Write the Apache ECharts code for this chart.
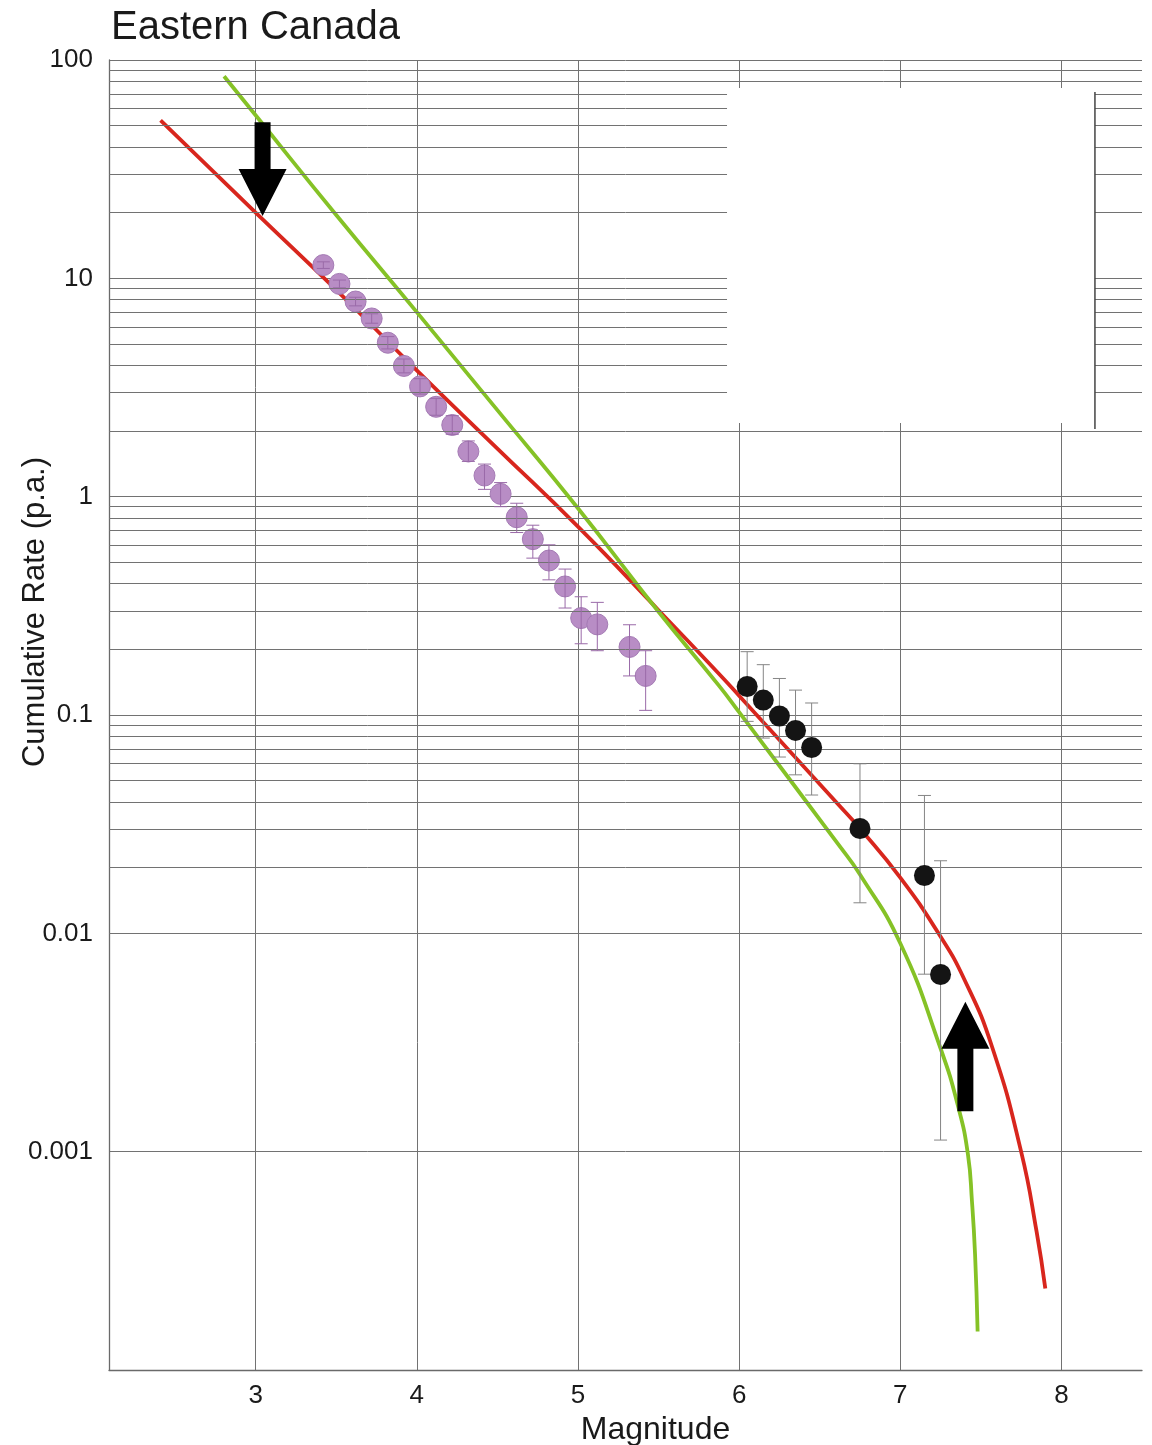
<!DOCTYPE html>
<html>
<head>
<meta charset="utf-8">
<title>Eastern Canada</title>
<script src="https://cdn.jsdelivr.net/npm/echarts@6/dist/echarts.min.js"></script>
<style>
  html, body { margin: 0; padding: 0; background: #ffffff; }
  #chart { width: 1152px; height: 1445px; }
</style>
</head>
<body>
<div id="chart"></div>
<script>
// Instrumental catalogue: cumulative annual rate with error range
const catalogueMag  = [3.42, 3.52, 3.62, 3.72, 3.82, 3.92, 4.02, 4.12, 4.22, 4.32, 4.42, 4.52, 4.62, 4.72, 4.82, 4.92, 5.02, 5.12, 5.32, 5.42];
const catalogueRate = [11.5, 9.43, 7.83, 6.55, 5.07, 3.97, 3.20, 2.58, 2.13, 1.61, 1.25, 1.03, 0.805, 0.639, 0.510, 0.388, 0.278, 0.260, 0.205, 0.151];
const catalogueLow  = [11.1, 9.05, 7.48, 6.23, 4.75, 3.69, 2.95, 2.36, 1.93, 1.45, 1.08, 0.90, 0.685, 0.523, 0.416, 0.309, 0.212, 0.197, 0.151, 0.105];
const catalogueHigh = [11.9, 9.82, 8.19, 6.88, 5.41, 4.27, 3.47, 2.82, 2.35, 1.80, 1.41, 1.16, 0.933, 0.740, 0.602, 0.466, 0.348, 0.328, 0.259, 0.197];

// Large historical / paleo events
const largeMag  = [6.05, 6.15, 6.25, 6.35, 6.45, 6.75, 7.15, 7.25];
const largeRate = [0.135, 0.117, 0.099, 0.085, 0.071, 0.0302, 0.0184, 0.00648];
const largeLow  = [0.0935, 0.0784, 0.0642, 0.0532, 0.0430, 0.0138, 0.0065, 0.00113];
const largeHigh = [0.195, 0.170, 0.147, 0.130, 0.1135, 0.0598, 0.0428, 0.0215];

// Magnitude-recurrence models
const redModelMag  = [2.41, 3.0, 3.5, 4.0, 4.5, 5.0, 5.5, 5.876, 6.0, 6.617, 6.75, 7.0, 7.237, 7.4, 7.571, 7.75, 7.846, 7.9];
const redModelRate = [52.9, 20.0, 8.85, 3.79, 1.66, 0.729, 0.302, 0.154, 0.1225, 0.0388, 0.0302, 0.0180, 0.0100, 0.0061, 0.0030, 0.00100, 0.00043, 0.000236];
const greenModelMag  = [2.804, 3.0, 3.5, 4.0, 4.5, 5.0, 5.5, 5.876, 6.0, 6.618, 6.75, 7.0, 7.248, 7.36, 7.42, 7.445, 7.464, 7.48];
const greenModelRate = [84.2, 55.8, 19.5, 7.0, 2.49, 0.885, 0.297, 0.136, 0.103, 0.0254, 0.0186, 0.0090, 0.0030, 0.0016, 0.00097, 0.00059, 0.00034, 0.00015];

// Annotation arrows: tail and tip in (magnitude, rate)
const arrowTail = [[3.043, 51.9], [7.404, 0.00153]];
const arrowTip  = [[3.043, 19.3], [7.404, 0.00486]];

// Blank panel in the upper right (magnitude range, rate range)
const panelMag  = [5.925, 8.208];
const panelRate = [2.175, 74.4];
const panelEdgeRate = [2.04, 71.3];

// Axis ticks
const xTickValues = [3, 4, 5, 6, 7, 8];
const yTickLabels = { '-4': '0.0001', '-3': '0.001', '-2': '0.01', '-1': '0.1', '0': '1', '1': '10', '2': '100' };
const decadeStarts = [0.0001, 0.001, 0.01, 0.1, 1, 10];
const minorMultipliers = [2, 3, 4, 5, 6, 7, 8, 9];

const FONT = '"Liberation Sans", Arial, Helvetica, sans-serif';
const GRID_COLOR = '#727272';

const zip = (a, b) => a.map((v, i) => [v, b[i]]);
const zip3 = (a, b, c) => a.map((v, i) => [v, b[i], c[i]]);

const minorGridValues = [];
decadeStarts.forEach(d => minorMultipliers.forEach(k => minorGridValues.push(+(d * k).toPrecision(6))));

function errorBars(color) {
  return function (params, api) {
    const m = api.value(0);
    const lo = api.coord([m, api.value(1)]);
    const hi = api.coord([m, api.value(2)]);
    const cap = 6.5;
    const style = { stroke: color, lineWidth: 1, fill: null };
    return {
      type: 'group',
      children: [
        { type: 'line', shape: { x1: lo[0], y1: lo[1], x2: hi[0], y2: hi[1] }, style },
        { type: 'line', shape: { x1: lo[0] - cap, y1: lo[1], x2: lo[0] + cap, y2: lo[1] }, style },
        { type: 'line', shape: { x1: hi[0] - cap, y1: hi[1], x2: hi[0] + cap, y2: hi[1] }, style }
      ]
    };
  };
}

function arrowShape(params, api) {
  const tail = api.coord([api.value(0), api.value(1)]);
  const tip = api.coord([api.value(2), api.value(3)]);
  const dir = tip[1] < tail[1] ? -1 : 1;
  const shaftHalf = 8, headHalf = 24, headLen = 47;
  const x = tip[0];
  const baseY = tip[1] - dir * headLen;
  return {
    type: 'polygon',
    shape: {
      points: [
        [x - shaftHalf, tail[1]], [x + shaftHalf, tail[1]],
        [x + shaftHalf, baseY], [x + headHalf, baseY],
        [x, tip[1]],
        [x - headHalf, baseY], [x - shaftHalf, baseY]
      ]
    },
    style: { fill: '#000000' }
  };
}

function blankPanel(params, api) {
  const tl = api.coord([api.value(0), api.value(3)]);
  const br = api.coord([api.value(1), api.value(2)]);
  const e1 = api.coord([api.value(1), api.value(4)]);
  const e2 = api.coord([api.value(1), api.value(5)]);
  return {
    type: 'group',
    children: [
      { type: 'rect', shape: { x: tl[0], y: tl[1], width: br[0] - tl[0], height: br[1] - tl[1] }, style: { fill: '#ffffff' } },
      { type: 'line', shape: { x1: e1[0], y1: e1[1], x2: e2[0], y2: e2[1] }, style: { stroke: '#444444', lineWidth: 1.5 } }
    ]
  };
}

const chart = echarts.init(document.getElementById('chart'), null, { renderer: 'canvas' });

chart.setOption({
  animation: false,
  backgroundColor: '#ffffff',
  title: {
    text: 'Eastern Canada',
    left: 111, top: 8, padding: 0,
    textStyle: { fontFamily: FONT, fontSize: 40, fontWeight: 'normal', color: '#1a1a1a' }
  },
  grid: { left: 109, right: 10, top: 60, bottom: 75, containLabel: false, outerBoundsMode: 'none' },
  xAxis: {
    type: 'value', min: 2.09, max: 8.5,
    name: 'Magnitude', nameLocation: 'middle', nameGap: 44, nameMoveOverlap: false,
    nameTextStyle: { fontFamily: FONT, fontSize: 32, color: '#1a1a1a', padding: [0, 0, 0, 60] },
    axisLine: { show: true, lineStyle: { color: '#6a6a6a', width: 1.3 } },
    axisTick: { show: false, customValues: xTickValues },
    axisLabel: { customValues: xTickValues, fontFamily: FONT, fontSize: 26, color: '#1a1a1a', margin: 13 },
    splitLine: { show: true, lineStyle: { color: GRID_COLOR, width: 1 } }
  },
  yAxis: {
    type: 'log', logBase: 10, min: 0.0001, max: 100,
    name: 'Cumulative Rate (p.a.)', nameLocation: 'middle', nameGap: 58, nameMoveOverlap: false,
    nameTextStyle: { fontFamily: FONT, fontSize: 31, color: '#1a1a1a', padding: [0, 0, 0, 206] },
    axisLine: { show: true, lineStyle: { color: '#6a6a6a', width: 1.3 } },
    axisTick: { show: false },
    axisLabel: {
      showMinLabel: false,
      fontFamily: FONT, fontSize: 26, color: '#1a1a1a', margin: 16,
      formatter: v => yTickLabels[String(Math.round(Math.log10(v)))] || ''
    },
    splitLine: { show: true, lineStyle: { color: GRID_COLOR, width: 1 } }
  },
  series: [
    {
      name: 'minor grid', type: 'scatter', data: [], silent: true, z: 1,
      markLine: {
        silent: true, symbol: ['none', 'none'], animation: false,
        label: { show: false },
        lineStyle: { type: 'solid', color: GRID_COLOR, width: 1 },
        data: minorGridValues.map(v => ({ yAxis: v }))
      }
    },
    {
      name: 'Model A', type: 'line', data: zip(redModelMag, redModelRate),
      showSymbol: false, smooth: 0.5, z: 3,
      lineStyle: { color: '#d8261d', width: 3.8 }
    },
    {
      name: 'Model B', type: 'line', data: zip(greenModelMag, greenModelRate),
      showSymbol: false, smooth: 0.5, z: 3,
      lineStyle: { color: '#85c226', width: 3.8 }
    },
    {
      name: 'Catalogue', type: 'scatter', data: zip(catalogueMag, catalogueRate),
      symbolSize: 21, z: 4,
      itemStyle: { color: '#b88dc5', borderColor: '#a47ab4', borderWidth: 1, opacity: 1 }
    },
    {
      name: 'Catalogue error', type: 'custom', z: 5, silent: true,
      data: zip3(catalogueMag, catalogueLow, catalogueHigh),
      encode: { x: 0, y: [1, 2] },
      renderItem: errorBars('#9a6aa8')
    },
    {
      name: 'Large events error', type: 'custom', z: 5, silent: true,
      data: zip3(largeMag, largeLow, largeHigh),
      encode: { x: 0, y: [1, 2] },
      renderItem: errorBars('#858585')
    },
    {
      name: 'Large events', type: 'scatter', data: zip(largeMag, largeRate),
      symbolSize: 21, z: 6,
      itemStyle: { color: '#141414', opacity: 1 }
    },
    {
      name: 'Arrows', type: 'custom', z: 7, silent: true,
      data: arrowTail.map((t, i) => [t[0], t[1], arrowTip[i][0], arrowTip[i][1]]),
      encode: { x: [0, 2], y: [1, 3] },
      renderItem: arrowShape
    },
    {
      name: 'Panel', type: 'custom', z: 8, silent: true,
      data: [[panelMag[0], panelMag[1], panelRate[0], panelRate[1], panelEdgeRate[0], panelEdgeRate[1]]],
      encode: { x: [0, 1], y: [2, 3] },
      renderItem: blankPanel
    }
  ]
});
</script>
</body>
</html>
